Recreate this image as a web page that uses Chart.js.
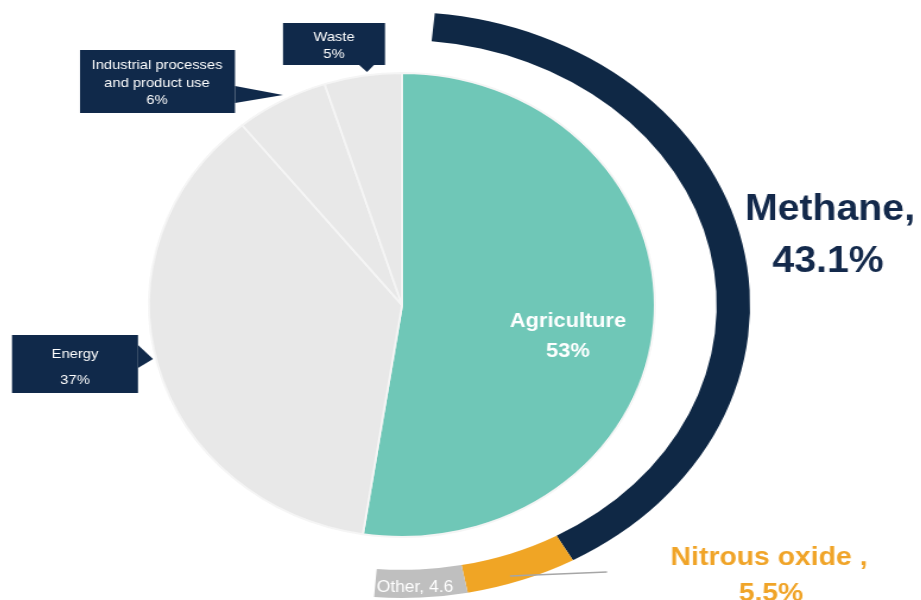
<!DOCTYPE html>
<html>
<head>
<meta charset="utf-8">
<script src="https://cdn.jsdelivr.net/npm/chart.js"></script>
<style>
  html, body { margin: 0; padding: 0; width: 921px; height: 600px; overflow: hidden; background: #fff; }
  .layer { position: absolute; left: 0; top: 0; width: 921px; height: 600px; }
  #pieLayer  { transform-origin: 402px 305px; transform: scaleX(1.09); }
  #ringLayer { transform-origin: 402px 305px; transform: scaleX(1.188); }
</style>
</head>
<body>
<div class="layer" id="pieLayer"><canvas id="pie"></canvas></div>
<div class="layer" id="ringLayer"><canvas id="ring"></canvas></div>
<script>
// Emissions by sector (inner pie), in %
const sectorLabels = ['Agriculture', 'Energy', ['Industrial processes', 'and product use'], 'Waste'];
const sectorValues = [53, 37, 6, 5];
const sectorColors = ['#6FC7B7', '#E8E8E8', '#E8E8E8', '#E8E8E8'];

// Agricultural emissions by gas (outer arc), in %
const gasLabels = ['Methane', 'Nitrous oxide', 'Other'];
const gasValues = [43.1, 5.5, 4.6];
const gasColors = ['#0F2845', '#F0A525', '#BFBFBF'];

// Layout
const CX = 402, CY = 305;            // shared centre on the page
const PIE_R = 233, RING_R = 293;     // vertical radii
const PIE_SX = 1.09, RING_SX = 1.188, TEXT_SX = 1.09;
const RING_START = 5.4, RING_SWEEP = 179.2;   // degrees, clockwise from top
const W = 921, H = 600;

const NAVY = '#10294A';
const FONT = '"Liberation Sans", Arial, sans-serif';

// The gas arc covers RING_SWEEP degrees; the rest of the circle stays empty.
const gasTotal = gasValues.reduce((a, b) => a + b, 0);
const ringFiller = gasTotal * (360 / RING_SWEEP - 1);

function paddingFor(r) {
  return { left: CX - r, top: CY - r, right: W - (CX + r), bottom: H - (CY + r) };
}

new Chart(document.getElementById('pie'), {
  type: 'pie',
  data: {
    labels: sectorLabels,
    datasets: [{
      data: sectorValues,
      backgroundColor: sectorColors,
      borderColor: '#F5F5F5',
      borderWidth: 2,
      hoverOffset: 0,
      offset: 0
    }]
  },
  options: {
    responsive: true,
    maintainAspectRatio: false,
    animation: false,
    events: [],
    layout: { padding: paddingFor(PIE_R) },
    plugins: { legend: { display: false }, tooltip: { enabled: false } }
  }
});

// Callout boxes for the grey sectors (page coordinates)
const callouts = [
  { i: 1, box: [12, 335, 126, 58], tip: [[138, 345], [153, 359], [138, 368]], x: 75, base: [358, 384] },
  { i: 2, box: [80, 50, 155, 63], tip: [[235, 86], [283, 95], [235, 103]], x: 157, base: [69, 87, 104] },
  { i: 3, box: [283, 23, 102, 42], tip: [[358, 64], [367, 72], [375, 64]], x: 334, base: [41, 58] }
];

const labelPlugin = {
  id: 'labels',
  afterDraw(chart) {
    const ctx = chart.ctx;
    const toCanvasX = px => CX + (px - CX) / RING_SX;

    function text(str, px, py, font, color) {
      ctx.save();
      ctx.translate(toCanvasX(px), py);
      ctx.scale(TEXT_SX / RING_SX, 1);
      ctx.font = font;
      ctx.fillStyle = color;
      ctx.textAlign = 'center';
      ctx.textBaseline = 'alphabetic';
      ctx.fillText(str, 0, 0);
      ctx.restore();
    }
    function pageSpace(fn) {
      ctx.save();
      ctx.translate(CX, 0);
      ctx.scale(1 / RING_SX, 1);
      ctx.translate(-CX, 0);
      fn();
      ctx.restore();
    }

    // Leader line across the nitrous oxide segment
    pageSpace(() => {
      ctx.strokeStyle = '#A6A6A6';
      ctx.lineWidth = 1.5;
      ctx.beginPath();
      ctx.moveTo(510, 576);
      ctx.lineTo(607, 572);
      ctx.stroke();
    });

    // Callouts
    callouts.forEach(c => {
      pageSpace(() => {
        ctx.fillStyle = NAVY;
        ctx.fillRect(c.box[0], c.box[1], c.box[2], c.box[3]);
        ctx.beginPath();
        ctx.moveTo(c.tip[0][0], c.tip[0][1]);
        ctx.lineTo(c.tip[1][0], c.tip[1][1]);
        ctx.lineTo(c.tip[2][0], c.tip[2][1]);
        ctx.closePath();
        ctx.fill();
      });
      const name = sectorLabels[c.i];
      const lines = (Array.isArray(name) ? name.slice() : [name]);
      lines.push(sectorValues[c.i] + '%');
      lines.forEach((ln, k) => text(ln, c.x, c.base[k], '13.5px ' + FONT, '#FFFFFF'));
    });

    // Agriculture label inside the pie
    text(sectorLabels[0], 568, 327, 'bold 20px ' + FONT, '#FFFFFF');
    text(sectorValues[0] + '%', 568, 357, 'bold 20px ' + FONT, '#FFFFFF');

    // Gas labels
    text(gasLabels[0] + ',', 830, 220, 'bold 36px ' + FONT, '#13294B');
    text(gasValues[0] + '%', 828, 272, 'bold 36px ' + FONT, '#13294B');
    text(gasLabels[1] + ' ,', 769, 565, 'bold 26px ' + FONT, '#F0A428');
    text(gasValues[1] + '%', 771, 601, 'bold 26px ' + FONT, '#F0A428');
    text(gasLabels[2] + ', ' + gasValues[2], 415, 592, '16px ' + FONT, '#FFFFFF');
  }
};

new Chart(document.getElementById('ring'), {
  type: 'doughnut',
  data: {
    labels: gasLabels.concat(['']),
    datasets: [{
      data: gasValues.concat([ringFiller]),
      backgroundColor: gasColors.concat(['rgba(0,0,0,0)']),
      borderWidth: 0,
      hoverOffset: 0,
      offset: 0
    }]
  },
  options: {
    responsive: true,
    maintainAspectRatio: false,
    animation: false,
    events: [],
    rotation: RING_START,
    cutout: '90.4%',
    layout: { padding: paddingFor(RING_R) },
    plugins: { legend: { display: false }, tooltip: { enabled: false } }
  },
  plugins: [labelPlugin]
});
</script>
</body>
</html>
